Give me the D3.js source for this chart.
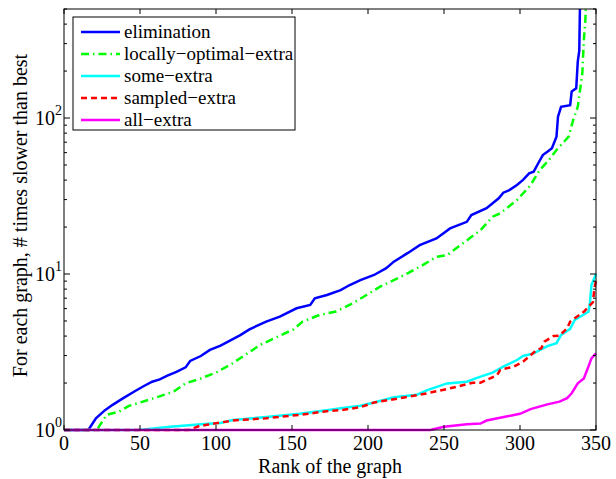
<!DOCTYPE html>
<html>
<head>
<meta charset="utf-8">
<script src="https://cdn.jsdelivr.net/npm/d3@7"></script>
<style>
  body { margin: 0; background: #fff; }
  text { font-family: "Liberation Serif", "Times New Roman", serif; fill: #000; }
</style>
</head>
<body>
<div id="chart"></div>
<script>
// rank of the graph vs # times slower than best
var elimination = [[0,1],[16,1],[21,1.19],[27,1.34],[32,1.45],[39,1.6],[46,1.76],[52,1.9],[58,2.04],[63,2.11],[68,2.23],[74,2.36],[80,2.52],[83,2.77],[90,2.98],[96,3.26],[103,3.47],[116,4.06],[122,4.42],[133,4.95],[142,5.33],[153,6.03],[162,6.33],[165,6.98],[173,7.34],[182,7.89],[188,8.5],[195,9.15],[204,9.86],[212,10.9],[217,12],[226,13.6],[234,15.3],[245,16.9],[254,19.6],[265,21.6],[268,23.9],[278,26.4],[286,30.6],[289,33.2],[293,34.5],[298,37.2],[302,40.1],[306,44.2],[309,45.3],[312,51.3],[315,57.9],[318,60.8],[321,64],[324,75.9],[325,102],[327,118],[333,121],[334,148],[337,155],[338,230],[339,270],[340,1200]];
var locallyOptimal = [[0,1],[22,1],[23,1.05],[28,1.25],[36,1.31],[43,1.43],[50,1.5],[61,1.62],[72,1.76],[80,1.99],[90,2.14],[101,2.36],[111,2.68],[129,3.51],[151,4.42],[157,4.95],[168,5.46],[179,5.75],[190,6.49],[199,7.34],[208,8.29],[217,9.15],[226,10.1],[236,11.4],[245,12.9],[252,13.2],[266,16.7],[274,19.1],[282,23.3],[287,24.5],[298,29.8],[307,37.2],[313,46.4],[319,53.8],[324,62.4],[332,75.9],[335,97.1],[338,118],[341,193],[342,316],[343,425],[344,800]];
var someExtra = [[0,1],[49,1],[70,1.05],[90,1.09],[103,1.11],[111,1.16],[133,1.21],[155,1.27],[173,1.34],[182,1.38],[195,1.43],[204,1.5],[217,1.62],[232,1.68],[239,1.8],[252,1.99],[265,2.04],[274,2.2],[282,2.33],[289,2.55],[298,2.81],[302,2.98],[309,3.1],[318,3.45],[324,3.6],[327,4.06],[333,4.45],[336,5.07],[345,5.73],[346,6.49],[347,8.5],[350,10]];
var sampledExtra = [[0,1],[82,1],[89,1.06],[94,1.08],[111,1.15],[133,1.19],[155,1.25],[173,1.32],[182,1.34],[195,1.4],[204,1.5],[226,1.63],[239,1.72],[254,1.85],[269,2.01],[274,2.01],[285,2.25],[287,2.43],[296,2.55],[302,2.74],[311,3.26],[314,3.34],[316,3.68],[322,4],[326,4.03],[331,4.49],[333,4.95],[342,5.73],[348,6.6],[349,8.2],[350,9]];
var allExtra = [[0,1],[241,1],[250,1.05],[265,1.09],[274,1.1],[278,1.15],[291,1.22],[300,1.27],[307,1.36],[318,1.46],[326,1.52],[331,1.6],[334,1.72],[338,1.99],[342,2.14],[345,2.55],[347,2.88],[350,3.1]];

var seriesNames = ["elimination", "locally\u2212optimal\u2212extra", "some\u2212extra", "sampled\u2212extra", "all\u2212extra"];
var seriesData = [elimination, locallyOptimal, someExtra, sampledExtra, allExtra];
var seriesColors = ["#0000ff", "#00ff00", "#00ffff", "#ff0000", "#ff00ff"];
var seriesDash = [null, "8,4,1.5,4", null, "6,4", null];

var xTicks = [0, 50, 100, 150, 200, 250, 300, 350];
var yTicks = [1, 10, 100];
var yExponents = ["0", "1", "2"];

function drawChart() {
  var svgWidth = 616, svgHeight = 479;
  var margin = {left: 64, right: 20, top: 9, bottom: 49};
  var w = svgWidth - margin.left - margin.right;
  var h = svgHeight - margin.top - margin.bottom;

  var svg = d3.select("#chart").append("svg")
    .attr("width", svgWidth)
    .attr("height", svgHeight);

  var g = svg.append("g")
    .attr("transform", "translate(" + margin.left + "," + margin.top + ")");

  var x = d3.scaleLinear().domain([0, 350]).range([0, w]);
  var y = d3.scaleLog().domain([1, 500]).range([h, 0]);

  // clip only above the top edge (lines at y=1 stay full width)
  svg.append("clipPath").attr("id", "clip")
    .append("rect")
    .attr("x", -2).attr("y", 0)
    .attr("width", w + 4).attr("height", h + 5);

  var line = d3.line()
    .x(function(d) { return x(d[0]); })
    .y(function(d) { return y(d[1]); });

  var lines = g.append("g").attr("clip-path", "url(#clip)");
  seriesData.forEach(function(data, i) {
    lines.append("path")
      .datum(data)
      .attr("d", line)
      .attr("fill", "none")
      .attr("stroke", seriesColors[i])
      .attr("stroke-width", 2.5)
      .attr("stroke-dasharray", seriesDash[i]);
  });

  // frame
  g.append("rect")
    .attr("width", w).attr("height", h)
    .attr("fill", "none").attr("stroke", "#000").attr("stroke-width", 1);

  // x ticks (inward, top and bottom)
  xTicks.forEach(function(t) {
    g.append("line").attr("x1", x(t)).attr("x2", x(t)).attr("y1", h).attr("y2", h - 5).attr("stroke", "#000");
    g.append("line").attr("x1", x(t)).attr("x2", x(t)).attr("y1", 0).attr("y2", 5).attr("stroke", "#000");
    g.append("text")
      .attr("x", x(t)).attr("y", h + 20)
      .attr("text-anchor", "middle")
      .style("font-size", "20px")
      .text(t);
  });

  // y ticks, major and minor, left and right
  var minor = [];
  [1, 10, 100].forEach(function(d) {
    for (var k = 2; k <= 9; k++) if (d * k <= 500) minor.push(d * k);
  });
  minor.forEach(function(t) {
    g.append("line").attr("x1", 0).attr("x2", 3).attr("y1", y(t)).attr("y2", y(t)).attr("stroke", "#000");
    g.append("line").attr("x1", w).attr("x2", w - 3).attr("y1", y(t)).attr("y2", y(t)).attr("stroke", "#000");
  });
  yTicks.forEach(function(t, i) {
    g.append("line").attr("x1", 0).attr("x2", 6).attr("y1", y(t)).attr("y2", y(t)).attr("stroke", "#000");
    g.append("line").attr("x1", w).attr("x2", w - 6).attr("y1", y(t)).attr("y2", y(t)).attr("stroke", "#000");
    var lab = g.append("text")
      .attr("x", -2).attr("y", y(t) + 7)
      .attr("text-anchor", "end")
      .style("font-size", "20px");
    lab.append("tspan").text("10");
    lab.append("tspan").attr("dy", -10).style("font-size", "14px").text(yExponents[i]);
  });

  // axis titles
  svg.append("text")
    .attr("x", margin.left + w / 2).attr("y", svgHeight - 6)
    .attr("text-anchor", "middle")
    .style("font-size", "20px")
    .text("Rank of the graph");

  svg.append("text")
    .attr("transform", "translate(27," + (margin.top + h / 2 - 4) + ") rotate(-90)")
    .attr("text-anchor", "middle")
    .style("font-size", "20px")
    .text("For each graph, # times slower than best");

  // legend
  var legend = svg.append("g").attr("transform", "translate(73,17)");
  legend.append("rect")
    .attr("width", 222).attr("height", 113)
    .attr("fill", "#fff").attr("stroke", "#000").attr("stroke-width", 1);
  seriesNames.forEach(function(name, i) {
    var ly = 15 + i * 22;
    legend.append("line")
      .attr("x1", 8).attr("x2", 47).attr("y1", ly).attr("y2", ly)
      .attr("stroke", seriesColors[i]).attr("stroke-width", 2.5)
      .attr("stroke-dasharray", seriesDash[i]);
    legend.append("text")
      .attr("x", 51).attr("y", ly + 6)
      .style("font-size", "19px")
      .text(name);
  });
}

drawChart();
</script>
</body>
</html>
